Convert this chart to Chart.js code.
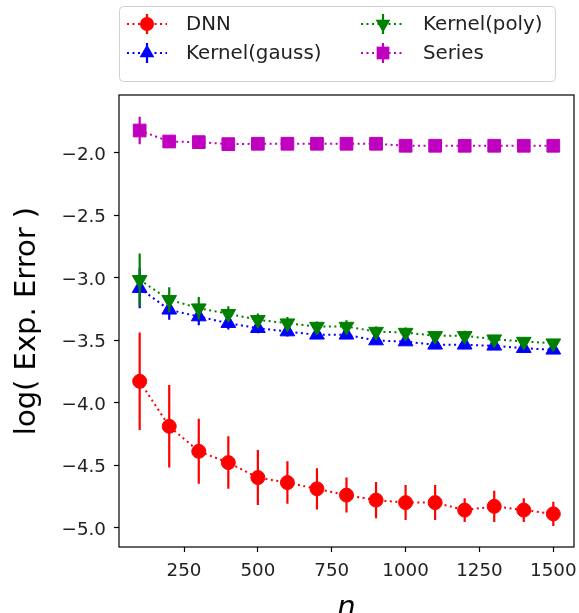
<!DOCTYPE html>
<html lang="en">
<head>
<meta charset="UTF-8">
<title>log( Exp. Error ) vs n</title>
<script src="https://cdn.jsdelivr.net/npm/chart.js"></script>
<style>
    html, body { margin: 0; padding: 0; background: #fff; }
    #wrap { width: 579px; height: 613px; }
</style>
</head>
<body>
<div id="wrap"><canvas id="errChart"></canvas></div>
<script>
// sample sizes on the x axis
const sampleSizes = [100, 200, 300, 400, 500, 600, 700, 800, 900, 1000, 1100, 1200, 1300, 1400, 1500];

// mean log error per method
const dnnMean    = [-3.83, -4.19, -4.39, -4.48, -4.60, -4.64, -4.69, -4.74, -4.78, -4.80, -4.80, -4.86, -4.83, -4.86, -4.89];
const dnnErr     = [0.39, 0.33, 0.26, 0.21, 0.22, 0.17, 0.165, 0.14, 0.145, 0.14, 0.14, 0.095, 0.125, 0.095, 0.097];
const gaussMean  = [-3.085, -3.258, -3.312, -3.365, -3.405, -3.432, -3.458, -3.458, -3.504, -3.512, -3.538, -3.538, -3.546, -3.565, -3.578];
const gaussErr   = [0.16, 0.08, 0.07, 0.05, 0.04, 0.04, 0.03, 0.03, 0.03, 0.03, 0.03, 0.03, 0.03, 0.03, 0.03];
const polyMean   = [-3.018, -3.178, -3.245, -3.29, -3.338, -3.365, -3.392, -3.392, -3.432, -3.44, -3.466, -3.466, -3.493, -3.512, -3.525];
const polyErr    = [0.21, 0.10, 0.09, 0.06, 0.05, 0.05, 0.04, 0.05, 0.04, 0.04, 0.03, 0.04, 0.03, 0.03, 0.03];
const seriesMean = [-1.824, -1.912, -1.917, -1.933, -1.93, -1.93, -1.93, -1.93, -1.93, -1.946, -1.946, -1.946, -1.946, -1.946, -1.946];
const seriesErr  = [0.11, 0.02, 0.015, 0.015, 0.01, 0.01, 0.01, 0.01, 0.01, 0.01, 0.01, 0.01, 0.01, 0.01, 0.01];

// tick labels
const xTicks = [250, 500, 750, 1000, 1250, 1500];
const yTicks = [-5.0, -4.5, -4.0, -3.5, -3.0, -2.5, -2.0];

const FONT = "'DejaVu Sans', 'Liberation Sans', sans-serif";

function toPoints(ys) {
    return sampleSizes.map((x, i) => ({ x: x, y: ys[i] }));
}

function makeSet(label, ys, errs, color, style, radius, rotation, order) {
    return {
        label: label,
        data: toPoints(ys),
        errors: errs,
        showLine: true,
        borderColor: color,
        backgroundColor: color,
        borderWidth: 2,
        borderDash: [2, 3.5],
        pointStyle: style,
        pointRotation: rotation,
        pointRadius: radius,
        pointHoverRadius: radius,
        pointBackgroundColor: color,
        pointBorderColor: color,
        pointBorderWidth: 1,
        tension: 0,
        fill: false,
        clip: false,
        order: order
    };
}

// vertical error bars, drawn just before each dataset
const errorBars = {
    id: 'errorBars',
    beforeDatasetDraw(chart, args) {
        const ds = chart.data.datasets[args.index];
        if (!ds.errors) return;
        const xs = chart.scales.x, ys = chart.scales.y;
        const ctx = chart.ctx;
        ctx.save();
        ctx.strokeStyle = ds.borderColor;
        ctx.lineWidth = 2.2;
        ctx.beginPath();
        ds.data.forEach((p, i) => {
            const px = xs.getPixelForValue(p.x);
            ctx.moveTo(px, ys.getPixelForValue(p.y + ds.errors[i]));
            ctx.lineTo(px, ys.getPixelForValue(p.y - ds.errors[i]));
        });
        ctx.stroke();
        ctx.restore();
    }
};

// box around the plotting area
const frame = {
    id: 'frame',
    afterDatasetsDraw(chart) {
        const a = chart.chartArea, ctx = chart.ctx;
        ctx.save();
        ctx.strokeStyle = '#000';
        ctx.lineWidth = 1.2;
        ctx.strokeRect(a.left, a.top, a.right - a.left, a.bottom - a.top);
        ctx.restore();
    }
};

function drawMarker(ctx, style, rotation, x, y, r, color) {
    ctx.save();
    ctx.fillStyle = color;
    ctx.beginPath();
    if (style === 'circle') {
        ctx.arc(x, y, r, 0, Math.PI * 2);
    } else if (style === 'rect') {
        const s = r * Math.SQRT1_2;
        ctx.rect(x - s, y - s, 2 * s, 2 * s);
    } else {
        let rad = (rotation || 0) * Math.PI / 180;
        ctx.moveTo(x + Math.sin(rad) * r, y - Math.cos(rad) * r);
        for (let k = 0; k < 2; k++) {
            rad += 2 * Math.PI / 3;
            ctx.lineTo(x + Math.sin(rad) * r, y - Math.cos(rad) * r);
        }
        ctx.closePath();
    }
    ctx.fill();
    ctx.restore();
}

// two-column legend above the axes, like matplotlib ncol=2
const legendBox = {
    id: 'legendBox',
    afterDraw(chart) {
        const ctx = chart.ctx;
        const box = { x: 119.5, y: 6.5, w: 436, h: 75, r: 4 };
        ctx.save();
        ctx.fillStyle = 'rgba(255,255,255,0.8)';
        ctx.strokeStyle = '#d0d0d0';
        ctx.lineWidth = 1;
        ctx.beginPath();
        ctx.roundRect(box.x, box.y, box.w, box.h, box.r);
        ctx.fill();
        ctx.stroke();

        const cols = [{ x1: 127, x2: 167, tx: 186 }, { x1: 361, x2: 405, tx: 423 }];
        const rows = [24, 53];
        ctx.font = '19.8px ' + FONT;
        ctx.textBaseline = 'middle';
        chart.data.datasets.forEach((ds, i) => {
            const c = cols[Math.floor(i / 2)], y = rows[i % 2];
            ctx.strokeStyle = ds.borderColor;
            ctx.lineWidth = 2;
            ctx.setLineDash([2, 3.5]);
            ctx.beginPath();
            ctx.moveTo(c.x1, y);
            ctx.lineTo(c.x2, y);
            ctx.stroke();
            ctx.setLineDash([]);
            const mx = (c.x1 + c.x2) / 2;
            ctx.lineWidth = 2.2;
            ctx.beginPath();
            ctx.moveTo(mx, y - 10);
            ctx.lineTo(mx, y + 10);
            ctx.stroke();
            drawMarker(ctx, ds.pointStyle, ds.pointRotation, mx, y, ds.pointRadius, ds.borderColor);
            ctx.fillStyle = '#222';
            ctx.fillText(ds.label, c.tx, y + 1);
        });
        ctx.restore();
    }
};

const tickFont = { family: FONT, size: 18.3 };
const tickGrid = {
    display: true,
    drawOnChartArea: false,
    drawTicks: true,
    tickLength: 5,
    tickColor: '#000',
    tickWidth: 1.2
};

function noPad(s) {
    s.paddingLeft = 0;
    s.paddingRight = 0;
    s.paddingTop = 0;
    s.paddingBottom = 0;
}

new Chart(document.getElementById('errChart').getContext('2d'), {
    type: 'scatter',
    data: {
        datasets: [
            makeSet('DNN', dnnMean, dnnErr, '#ff0000', 'circle', 7, 0, 3),
            makeSet('Kernel(gauss)', gaussMean, gaussErr, '#0000ff', 'triangle', 8.5, 0, 2),
            makeSet('Kernel(poly)', polyMean, polyErr, '#008000', 'triangle', 8.5, 180, 1),
            makeSet('Series', seriesMean, seriesErr, '#bf00bf', 'rect', 9, 0, 0)
        ]
    },
    options: {
        responsive: true,
        maintainAspectRatio: false,
        animation: false,
        layout: { autoPadding: false, padding: { top: 95, right: 5, left: 0, bottom: 0 } },
        plugins: {
            legend: { display: false },
            tooltip: { enabled: false }
        },
        scales: {
            x: {
                type: 'linear',
                min: 30,
                max: 1570,
                afterBuildTicks: s => { s.ticks = xTicks.map(v => ({ value: v })); },
                afterFit: s => { s.height = 66; noPad(s); },
                ticks: {
                    font: tickFont,
                    color: '#222',
                    padding: 8,
                    maxRotation: 0,
                    callback: v => String(v)
                },
                grid: tickGrid,
                border: { display: false },
                title: {
                    display: true,
                    text: 'n',
                    color: '#000',
                    font: { family: FONT, size: 29, style: 'italic' },
                    padding: { top: 0, bottom: -13 }
                }
            },
            y: {
                type: 'linear',
                min: -5.155,
                max: -1.54,
                afterBuildTicks: s => { s.ticks = yTicks.map(v => ({ value: v })); },
                afterFit: s => { s.width = 119; noPad(s); },
                ticks: {
                    font: tickFont,
                    color: '#222',
                    padding: 8,
                    labelOffset: 2.5,
                    callback: v => (v < 0 ? '\u2212' : '') + Math.abs(v).toFixed(1)
                },
                grid: tickGrid,
                border: { display: false },
                title: {
                    display: true,
                    text: 'log( Exp. Error )',
                    color: '#000',
                    font: { family: FONT, size: 29 },
                    padding: { top: 10.5, bottom: 0 }
                }
            }
        }
    },
    plugins: [errorBars, frame, legendBox]
});
</script>
</body>
</html>
